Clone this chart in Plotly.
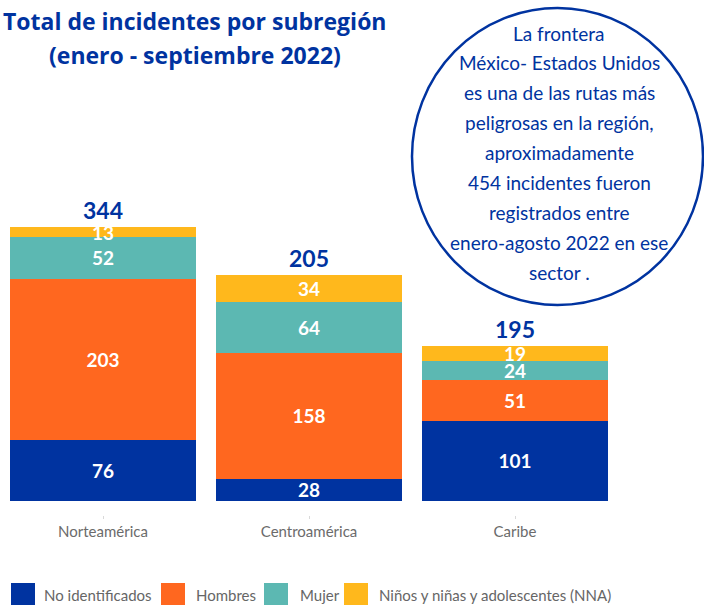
import plotly.graph_objects as go

# ---------------- data ----------------
categories = ["Norteamérica", "Centroamérica", "Caribe"]
series_names = ["No identificados", "Hombres", "Mujer", "Niños y niñas y adolescentes (NNA)"]
no_identificados = [76, 28, 101]
hombres = [203, 158, 51]
mujer = [52, 64, 24]
nna = [13, 34, 19]
totals = [344, 205, 195]

title_lines = ["Total de incidentes por subregión", "(enero - septiembre 2022)"]
note_lines = [
    "La frontera",
    "México- Estados Unidos",
    "es una de las rutas más",
    "peligrosas en la región,",
    "aproximadamente",
    "454 incidentes fueron",
    "registrados entre",
    "enero-agosto 2022 en ese",
    "sector .",
]

# ---------------- styling ----------------
W, H = 704, 606
ML, MR, MT, MB = 0, 86, 10, 91
PW, PH = W - ML - MR, H - MT - MB
PX_PER_UNIT = 0.797
BASE_OFFSET_PX = 14  # axis line sits this many px below bar base
y_min = -BASE_OFFSET_PX / PX_PER_UNIT
y_max = y_min + PH / PX_PER_UNIT

colors = ["#0033A0", "#FF671F", "#5CB8B2", "#FFB81C"]
BLUE = "#0033A0"
FONT = "Lato"


def px_x(px):
    return (px - ML) / PW


def px_y(py):
    return (H - MB - py) / PH


series = [no_identificados, hombres, mujer, nna]

fig = go.Figure()
for name, vals, col in zip(series_names, series, colors):
    fig.add_trace(go.Bar(
        x=categories, y=vals, name=name,
        marker=dict(color=col, line=dict(width=0)),
        text=vals, textposition="inside", insidetextanchor="middle",
        textangle=0, constraintext="none",
        textfont=dict(family=FONT, size=19, color="white", weight="bold"),
        hoverinfo="skip", showlegend=False,
    ))

annotations = []
# totals above stacks
for i, cat in enumerate(categories):
    stack_top = sum(s[i] for s in series)
    annotations.append(dict(
        x=cat, y=stack_top, xref="x", yref="y", text=str(totals[i]),
        showarrow=False, yanchor="bottom", yshift=1,
        font=dict(family=FONT, size=23, color=BLUE, weight="bold"),
    ))

# title
for j, line in enumerate(title_lines):
    annotations.append(dict(
        x=px_x(195), y=px_y(21 + 34 * j), xref="paper", yref="paper",
        text=line, showarrow=False, xanchor="center", yanchor="middle",
        font=dict(family="Open Sans", size=23, color=BLUE, weight="bold"),
    ))

# circle note
for j, line in enumerate(note_lines):
    annotations.append(dict(
        x=px_x(559), y=px_y(33 + 29.9 * j), xref="paper", yref="paper",
        text=line, showarrow=False, xanchor="center", yanchor="middle",
        font=dict(family=FONT, size=19, color=BLUE),
    ))

shapes = [dict(
    type="circle", xref="paper", yref="paper",
    x0=px_x(412), x1=px_x(703), y0=px_y(305), y1=px_y(8),
    line=dict(color=BLUE, width=2.5), fillcolor="rgba(0,0,0,0)",
)]

# manual legend
legend_sq_x = [11, 161, 264, 344]
legend_tx_x = [42, 194, 298, 377]
for name, col, sx, tx in zip(series_names, colors, legend_sq_x, legend_tx_x):
    shapes.append(dict(
        type="rect", xref="paper", yref="paper",
        x0=px_x(sx), x1=px_x(sx + 24), y0=px_y(605), y1=px_y(583),
        fillcolor=col, line=dict(width=0),
    ))
    annotations.append(dict(
        x=px_x(tx), y=px_y(595), xref="paper", yref="paper",
        text=name, showarrow=False, xanchor="left", yanchor="middle",
        font=dict(family=FONT, size=15, color="#666666"),
    ))

fig.update_layout(
    width=W, height=H,
    margin=dict(l=ML, r=MR, t=MT, b=MB, pad=0),
    barmode="stack", bargap=0.098,
    plot_bgcolor="white", paper_bgcolor="white",
    showlegend=False,
    xaxis=dict(
        showline=False, showgrid=False, zeroline=False,
        ticks="outside", ticklen=3, tickcolor="#d9d9d9", tickwidth=1,
        tickfont=dict(family=FONT, size=15, color="#6b6b6b"),
    ),
    yaxis=dict(
        range=[y_min, y_max], visible=False, showgrid=False, zeroline=False,
    ),
    annotations=annotations,
    shapes=shapes,
)

fig.write_html(
    "out.html",
    config={"displayModeBar": False},
    post_script="document.body.style.margin='0';document.body.style.overflow='hidden';",
)
